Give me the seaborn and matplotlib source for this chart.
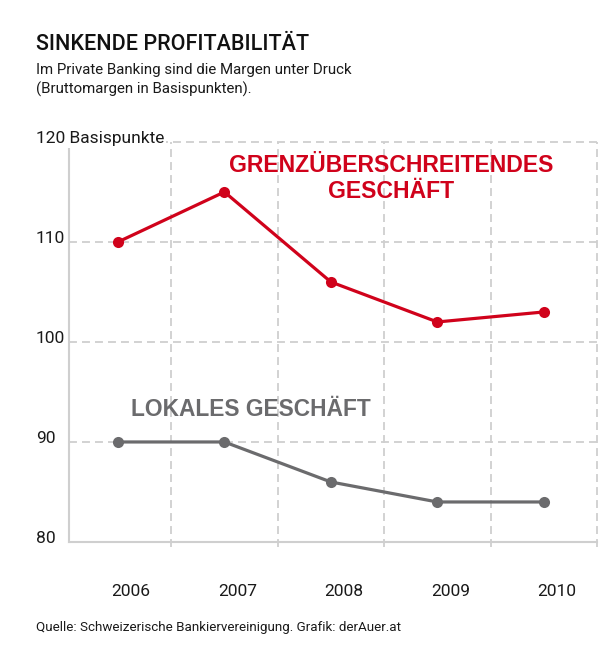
import matplotlib
matplotlib.use("Agg")
import matplotlib.pyplot as plt
from matplotlib.transforms import ScaledTranslation
import seaborn as sns
import pandas as pd

years = [2006, 2007, 2008, 2009, 2010]
cross_border = [110, 115, 106, 102, 103]
local = [90, 90, 86, 84, 84]
y_ticks = [80, 90, 100, 110, 120]
y_tick_labels = ["80", "90", "100", "110", "120 Basispunkte"]
series_names = ["GRENZÜBERSCHREITENDES\nGESCHÄFT", "LOKALES GESCHÄFT"]

title = "SINKENDE PROFITABILITÄT"
subtitle = "Im Private Banking sind die Margen unter Druck\n(Bruttomargen in Basispunkten)."
source = "Quelle: Schweizerische Bankiervereinigung. Grafik: derAuer.at"

RED = "#d0021b"
GRAY = "#6b6b6d"
GRID = "#cfcfcf"
TXT = "#1a1a1a"

df = pd.DataFrame({
    "Jahr": years * 2,
    "Wert": cross_border + local,
    "Serie": [series_names[0]] * len(years) + [series_names[1]] * len(years),
})

sns.set_style("white")
plt.rcParams["font.family"] = ["Roboto", "DejaVu Sans"]

fig = plt.figure(figsize=(6, 6.5), dpi=100)
ax = fig.add_axes([0.115, 0.1662, 0.88, 0.6154])
ax.set_axisbelow(False)

sns.lineplot(data=df, x="Jahr", y="Wert", hue="Serie",
             palette={series_names[0]: RED, series_names[1]: GRAY},
             marker="o", markersize=8, markeredgewidth=0, linewidth=2.3,
             legend=False, ax=ax, zorder=3)

ax.set_xlim(2005.54, 2010.5)
ax.set_ylim(80, 120)

# grid
for y in y_ticks[1:]:
    ax.axhline(y, color=GRID, lw=1.3, dashes=(4.4, 2.8), zorder=1, clip_on=False)
for x in [2006.5, 2007.5, 2008.5, 2009.5, 2010.5]:
    ax.axvline(x, ymin=-0.012, ymax=1, color=GRID, lw=1.3, dashes=(4.4, 2.8), zorder=1, clip_on=False)

for s in ["top", "right"]:
    ax.spines[s].set_visible(False)
for s in ["left", "bottom"]:
    ax.spines[s].set_color(GRID)
    ax.spines[s].set_linewidth(1.5)

ax.set_xlabel("")
ax.set_ylabel("")
ax.set_xticks(years)
ax.set_xticklabels([str(y) for y in years])
ax.set_yticks(y_ticks)
ax.set_yticklabels(y_tick_labels)
ax.tick_params(axis="both", length=0, labelsize=12.5, colors=TXT)
ax.tick_params(axis="x", pad=30)
ax.tick_params(axis="y", pad=24)
for lab in ax.get_yticklabels():
    lab.set_horizontalalignment("left")
    lab.set_transform(lab.get_transform() + ScaledTranslation(0, 5 / 100, fig.dpi_scale_trans))
    if "Basis" in lab.get_text():
        lab.set_bbox(dict(facecolor="white", edgecolor="none", pad=1.5))
for lab in ax.get_xticklabels():
    lab.set_transform(lab.get_transform() + ScaledTranslation(13 / 100, 0, fig.dpi_scale_trans))

# series labels
ax.text(2008.57, 116.35, series_names[0], color=RED, fontsize=16.6, fontweight="bold",
        family=["Liberation Sans", "DejaVu Sans"],
        ha="center", va="center", linespacing=1.15, zorder=4)
ax.text(2007.25, 93.2, series_names[1], color=GRAY, fontsize=16.4, fontweight="bold",
        family=["Liberation Sans", "DejaVu Sans"],
        ha="center", va="center", zorder=4)

fig.text(36 / 600, 1 - 45 / 650, title, fontsize=15.5, fontweight="medium",
         color="#111111", ha="left", va="center")
fig.text(36 / 600, 1 - 63 / 650, subtitle, fontsize=10.8,
         color=TXT, ha="left", va="top", linespacing=1.35)
fig.text(36 / 600, 1 - 628 / 650, source, fontsize=9.6,
         color=TXT, ha="left", va="center")

fig.savefig("out.png", dpi=100, facecolor="white")
